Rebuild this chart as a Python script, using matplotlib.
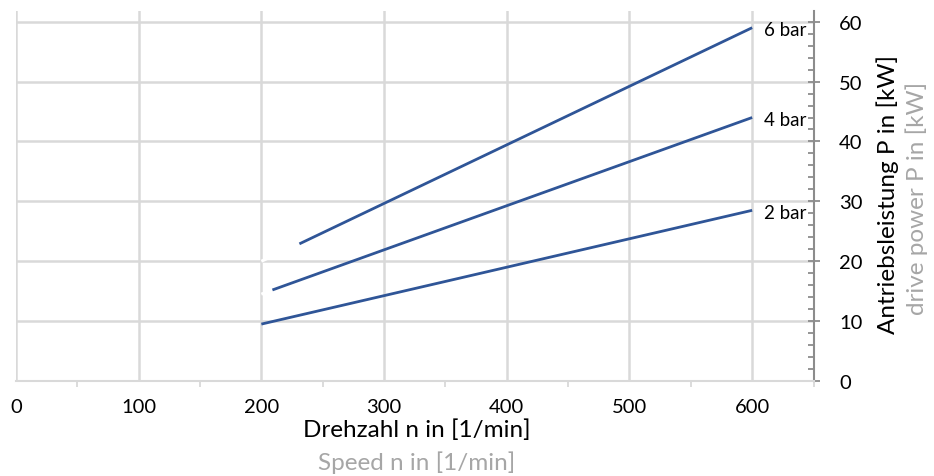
import matplotlib.pyplot as plt
from matplotlib.ticker import MultipleLocator

plt.rcParams["font.family"] = ["Lato", "DejaVu Sans"]

# speed n [1/min] and drive power P [kW] per pressure
labels = ["2 bar", "4 bar", "6 bar"]
n_start = [200, 209, 231]
n_end = [600, 600, 600]
p_start = [9.5, 15.2, 22.9]
p_end = [28.5, 44.0, 59.0]
# hidden (white) lead-in from n=200, as in the source sheet
p_at_200 = [9.5, 14.5, 20.0]

x_ticks = [0, 100, 200, 300, 400, 500, 600]
y_ticks = [0, 10, 20, 30, 40, 50, 60]

blue = "#2f5597"
grid = "#d9d9d9"

fig = plt.figure(figsize=(9.34, 4.77), dpi=100)
ax = fig.add_axes([0.0171, 0.1992, 0.8539, 0.7758])

for i in range(3):
    if n_start[i] > 200:
        ax.plot([200, n_start[i]], [p_at_200[i], p_start[i]], color="white",
                lw=2.2, zorder=2.5, solid_capstyle="butt")
    ax.plot([n_start[i], n_end[i]], [p_start[i], p_end[i]], color=blue,
            lw=2.0, zorder=3, solid_capstyle="butt")
    ax.text(n_end[i] + 10, p_end[i] - 0.3, labels[i], fontsize=13.5,
            va="center", ha="left", zorder=4)

ax.set_xlim(0, 650)
ax.set_ylim(0, 61.8)

ax.set_xticks(x_ticks)
ax.xaxis.set_minor_locator(MultipleLocator(50))
ax.set_yticks(y_ticks)
ax.yaxis.set_minor_locator(MultipleLocator(2))
ax.yaxis.tick_right()

ax.grid(True, which="major", color=grid, lw=1.8, zorder=1)
ax.set_axisbelow(True)

for s in ["left", "top"]:
    ax.spines[s].set_visible(False)
ax.spines["bottom"].set_color(grid)
ax.spines["bottom"].set_linewidth(1.5)
ax.spines["right"].set_color("#8c8c8c")
ax.spines["right"].set_linewidth(1.5)

ax.tick_params(axis="x", which="major", length=0, pad=12, labelsize=14.5)
ax.tick_params(axis="x", which="minor", length=4, color=grid, width=1.3)
ax.tick_params(axis="y", which="major", direction="inout", length=9,
               color="#8c8c8c", width=1.3, pad=14, labelsize=14.5)
ax.tick_params(axis="y", which="minor", direction="in", length=4,
               color="#8c8c8c", width=1.3)

fig.text(0.446, 0.098, "Drehzahl n in [1/min]", fontsize=17.5, ha="center", va="center")
fig.text(0.446, 0.031, "Speed n in [1/min]", fontsize=17.5, ha="center", va="center",
         color="#a6a6a6")
fig.text(0.950, 0.592, "Antriebsleistung P in [kW]", fontsize=17.5, rotation=90,
         ha="center", va="center")
fig.text(0.981, 0.585, "drive power P in [kW]", fontsize=17.5, rotation=90,
         ha="center", va="center", color="#a6a6a6")

fig.savefig("out.png", dpi=100)
